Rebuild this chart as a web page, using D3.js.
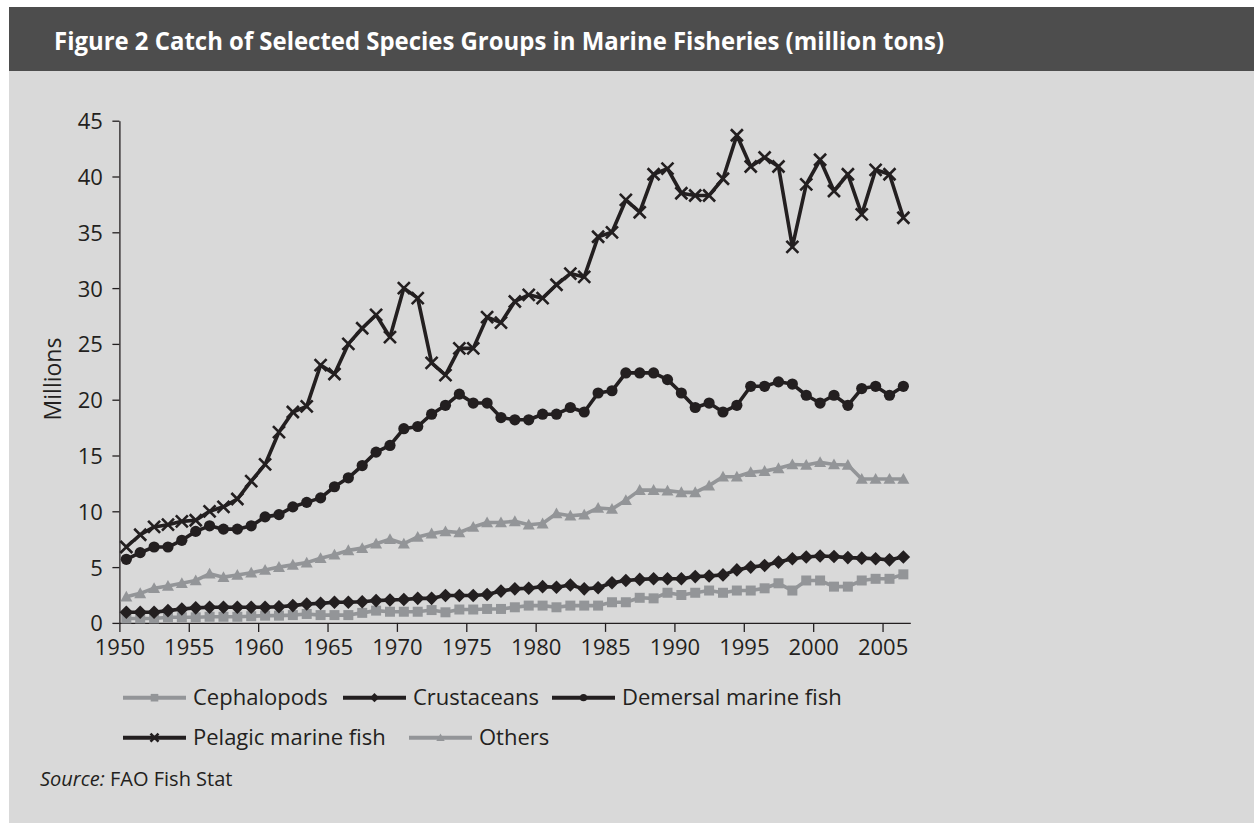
<!DOCTYPE html>
<html>
<head>
<meta charset="utf-8">
<script src="https://cdn.jsdelivr.net/npm/d3@7"></script>
<style>
  body { margin: 0; background: #ffffff; }
  svg text { font-family: "Open Sans", sans-serif; fill: #231f20; }
</style>
</head>
<body>
<div id="chart"></div>
<script>
// categories (years)
var years = [1950, 1951, 1952, 1953, 1954, 1955, 1956, 1957, 1958, 1959,
             1960, 1961, 1962, 1963, 1964, 1965, 1966, 1967, 1968, 1969,
             1970, 1971, 1972, 1973, 1974, 1975, 1976, 1977, 1978, 1979,
             1980, 1981, 1982, 1983, 1984, 1985, 1986, 1987, 1988, 1989,
             1990, 1991, 1992, 1993, 1994, 1995, 1996, 1997, 1998, 1999,
             2000, 2001, 2002, 2003, 2004, 2005, 2006];

var cephalopods = [0.4, 0.4, 0.4, 0.5, 0.5, 0.5, 0.55, 0.55, 0.55, 0.6,
                   0.65, 0.65, 0.7, 0.8, 0.7, 0.7, 0.7, 0.9, 1.1, 1.0,
                   1.0, 1.0, 1.15, 0.95, 1.2, 1.2, 1.25, 1.25, 1.4, 1.55,
                   1.55, 1.4, 1.55, 1.55, 1.55, 1.85, 1.85, 2.25, 2.2, 2.7,
                   2.5, 2.7, 2.9, 2.7, 2.9, 2.9, 3.1, 3.55, 2.9, 3.8,
                   3.8, 3.25, 3.25, 3.8, 3.95, 3.95, 4.35];

var crustaceans = [0.95, 0.95, 0.95, 1.1, 1.25, 1.35, 1.4, 1.4, 1.4, 1.4,
                   1.4, 1.45, 1.55, 1.7, 1.75, 1.85, 1.85, 1.9, 2.0, 2.05,
                   2.1, 2.2, 2.2, 2.45, 2.45, 2.45, 2.55, 2.85, 3.05, 3.1,
                   3.25, 3.2, 3.4, 3.05, 3.15, 3.6, 3.8, 3.9, 3.95, 3.95,
                   3.95, 4.15, 4.2, 4.3, 4.75, 5.0, 5.15, 5.45, 5.75, 5.9,
                   6.0, 5.95, 5.85, 5.8, 5.75, 5.65, 5.9];

var demersal = [5.7, 6.3, 6.8, 6.8, 7.4, 8.2, 8.7, 8.4, 8.4, 8.7,
                9.5, 9.7, 10.4, 10.8, 11.2, 12.2, 13.0, 14.1, 15.3, 15.9,
                17.4, 17.6, 18.7, 19.5, 20.5, 19.7, 19.7, 18.4, 18.2, 18.2,
                18.7, 18.7, 19.3, 18.9, 20.6, 20.8, 22.4, 22.4, 22.4, 21.8,
                20.6, 19.3, 19.7, 18.9, 19.5, 21.2, 21.2, 21.6, 21.4, 20.4,
                19.7, 20.4, 19.5, 21.0, 21.2, 20.4, 21.2];

var pelagic = [6.8, 7.9, 8.6, 8.8, 9.1, 9.2, 10.0, 10.4, 11.1, 12.7,
               14.2, 17.1, 18.9, 19.4, 23.1, 22.3, 25.0, 26.4, 27.6, 25.6,
               30.0, 29.1, 23.3, 22.2, 24.6, 24.6, 27.4, 26.9, 28.8, 29.4,
               29.1, 30.3, 31.3, 31.0, 34.6, 35.0, 37.9, 36.8, 40.2, 40.7,
               38.5, 38.3, 38.3, 39.8, 43.7, 40.9, 41.7, 40.9, 33.7, 39.3,
               41.5, 38.7, 40.2, 36.6, 40.6, 40.2, 36.3];

var others = [2.35, 2.65, 3.1, 3.3, 3.55, 3.8, 4.4, 4.1, 4.3, 4.5,
              4.75, 5.0, 5.2, 5.4, 5.8, 6.1, 6.5, 6.7, 7.1, 7.5,
              7.1, 7.7, 8.0, 8.2, 8.1, 8.6, 9.0, 9.0, 9.1, 8.8,
              8.9, 9.8, 9.6, 9.7, 10.3, 10.2, 11.0, 11.9, 11.9, 11.85,
              11.7, 11.7, 12.3, 13.1, 13.1, 13.5, 13.6, 13.85, 14.2, 14.15,
              14.4, 14.2, 14.15, 12.9, 12.9, 12.9, 12.9];

var xTicks = [1950, 1955, 1960, 1965, 1970, 1975, 1980, 1985, 1990, 1995, 2000, 2005];
var yTicks = [0, 5, 10, 15, 20, 25, 30, 35, 40, 45];

var dark = "#231f20", grey = "#939598";

var series = [
  { name: "Cephalopods", values: cephalopods, color: grey, marker: "square" },
  { name: "Crustaceans", values: crustaceans, color: dark, marker: "diamond" },
  { name: "Demersal marine fish", values: demersal, color: dark, marker: "circle" },
  { name: "Pelagic marine fish", values: pelagic, color: dark, marker: "cross" },
  { name: "Others", values: others, color: grey, marker: "triangle" }
];

var W = 1254, H = 833;
var plot = { left: 119.4, right: 910.3, top: 120.7, bottom: 622.9 };

var svg = d3.select("#chart").append("svg")
    .attr("width", W)
    .attr("height", H);

// panel + title bar
svg.append("rect").attr("x", 9).attr("y", 7).attr("width", W - 9).attr("height", 816)
    .attr("fill", "#d9d9d9");
svg.append("rect").attr("x", 9).attr("y", 7).attr("width", W - 9).attr("height", 64)
    .attr("fill", "#4d4d4d");
svg.append("text")
    .attr("x", 54).attr("y", 50)
    .attr("textLength", 890).attr("lengthAdjust", "spacingAndGlyphs")
    .style("font-weight", "bold").style("font-size", "25px").style("fill", "#ffffff")
    .text("Figure 2  Catch of Selected Species Groups in Marine Fisheries (million tons)");

var x = d3.scaleLinear().domain([1950, 2007]).range([plot.left, plot.right]);
var y = d3.scaleLinear().domain([0, 45]).range([plot.bottom, plot.top]);

// axes
var xAxis = svg.append("g")
    .attr("transform", "translate(0," + plot.bottom + ")")
    .call(d3.axisBottom(x).tickValues(xTicks).tickSize(9).tickSizeOuter(0).tickFormat(d3.format("d")));
xAxis.selectAll("text").attr("y", 32).attr("dy", 0).style("font-size", "22px");

var yAxis = svg.append("g")
    .attr("transform", "translate(" + plot.left + ",0)")
    .call(d3.axisLeft(y).tickValues(yTicks).tickSize(7).tickSizeOuter(0));
yAxis.selectAll("text").attr("x", -16.5).attr("dy", "0.36em").style("font-size", "22px");

[xAxis, yAxis].forEach(function(a) {
  a.select(".domain").attr("stroke", dark).attr("stroke-width", 1.3);
  a.selectAll(".tick line").attr("stroke", dark).attr("stroke-width", 1.3);
});

svg.append("text")
    .attr("transform", "translate(61,379)rotate(-90)")
    .attr("text-anchor", "middle")
    .style("font-size", "23px")
    .text("Millions");

// marker shapes
function markerPath(type, s) {
  if (type === "square") return "M" + (-s) + "," + (-s) + "h" + 2 * s + "v" + 2 * s + "h" + (-2 * s) + "Z";
  if (type === "diamond") return "M0," + (-s) + "L" + s + ",0L0," + s + "L" + (-s) + ",0Z";
  if (type === "triangle") return "M0," + (-s) + "L" + s + "," + (s * 0.8) + "L" + (-s) + "," + (s * 0.8) + "Z";
  if (type === "circle") return d3.symbol().type(d3.symbolCircle).size(Math.PI * s * s)();
  if (type === "cross") return "M" + (-s) + "," + (-s) + "L" + s + "," + s + "M" + (-s) + "," + s + "L" + s + "," + (-s);
}
var markerSize = { square: 5, diamond: 6.8, circle: 5.6, cross: 6, triangle: 6 };
var legendSize = { square: 3.8, diamond: 4.6, circle: 3.6, cross: 4, triangle: 4.2 };

function drawMarker(g, type, s, color) {
  var p = g.append("path").attr("d", markerPath(type, s));
  if (type === "cross") p.attr("fill", "none").attr("stroke", color).attr("stroke-width", 2.6);
  else p.attr("fill", color);
}

var line = d3.line()
    .x(function(d, i) { return x(years[i] + 0.5); })
    .y(function(d) { return y(d); });

series.forEach(function(s) {
  var g = svg.append("g");
  g.append("path")
      .datum(s.values)
      .attr("d", line)
      .attr("fill", "none")
      .attr("stroke", s.color)
      .attr("stroke-width", 3.6)
      .attr("stroke-linejoin", "round");
  s.values.forEach(function(v, i) {
    var m = g.append("g").attr("transform", "translate(" + x(years[i] + 0.5) + "," + y(v) + ")");
    drawMarker(m, s.marker, markerSize[s.marker], s.color);
  });
});

// legend
var legendPos = [
  { lx: 123, ly: 697.7 },
  { lx: 343, ly: 697.7 },
  { lx: 552, ly: 697.7 },
  { lx: 123, ly: 737.7 },
  { lx: 409, ly: 737.7 }
];
series.forEach(function(s, i) {
  var p = legendPos[i];
  var g = svg.append("g").attr("transform", "translate(" + p.lx + "," + p.ly + ")");
  g.append("line").attr("x1", 0).attr("x2", 63).attr("y1", 0).attr("y2", 0)
      .attr("stroke", s.color).attr("stroke-width", 4);
  var m = g.append("g").attr("transform", "translate(31.5,0)");
  drawMarker(m, s.marker, legendSize[s.marker], s.color);
  g.append("text").attr("x", 70).attr("y", 7)
      .style("font-size", "22px")
      .text(s.name);
});

// source note
var src = svg.append("text").attr("x", 40).attr("y", 786).style("font-size", "20px");
src.append("tspan").style("font-style", "italic").text("Source:");
src.append("tspan").text(" FAO Fish Stat");
</script>
</body>
</html>
